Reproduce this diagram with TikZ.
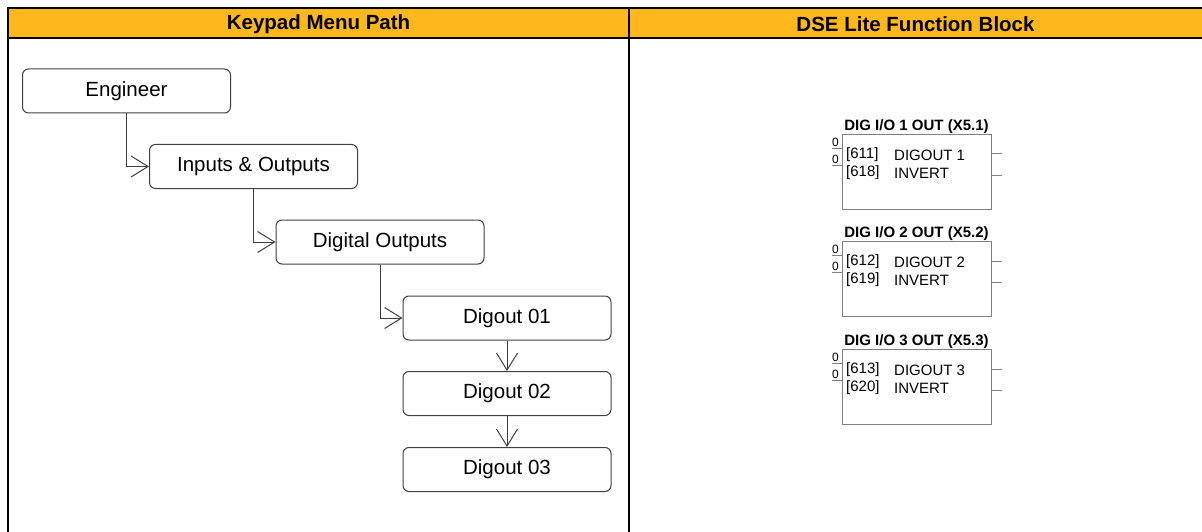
\documentclass[tikz,border=0pt]{standalone}
\usepackage{fontspec}
\setmainfont{Liberation Sans}
\usetikzlibrary{arrows.meta}
\definecolor{hdr}{RGB}{255,184,28}
\definecolor{menuline}{RGB}{64,64,64}
\definecolor{fbgray}{RGB}{128,128,128}
\tikzset{
  menubox/.style={draw=menuline, line width=1pt, rounded corners=6pt, minimum width=208pt, minimum height=44pt, inner sep=0pt, font=\fontsize{20.5}{24}\selectfont},
  arr/.style={draw=menuline, line width=1pt, -{Straight Barb[length=17pt,width=21pt,line width=1pt]}},
  tline/.style={line width=2pt, black},
  hdrtext/.style={font=\fontsize{20.5}{24}\selectfont\bfseries, inner sep=0pt},
  fbbox/.style={draw=fbgray, line width=1pt, minimum width=149pt, minimum height=75pt, inner sep=0pt, anchor=north west},
  fbtitle/.style={font=\fontsize{15}{18}\selectfont\bfseries, inner sep=0pt, anchor=base},
  fbtext/.style={font=\fontsize{15}{18}\selectfont, inner sep=0pt, anchor=west},
  fbzero/.style={font=\fontsize{12}{14}\selectfont, inner sep=0pt, anchor=south},
  fbtick/.style={draw=fbgray, line width=1pt}
}
\begin{document}
\begin{tikzpicture}[x=1pt,y=-1pt]
\useasboundingbox (0,0) rectangle (1202,532);
% table
\fill[hdr] (8,8) rectangle (1202,38.5);
\draw[tline] (7,8) -- (1202,8);
\draw[tline] (8,38.5) -- (1202,38.5);
\draw[tline] (8,7) -- (8,532);
\draw[tline] (629,8) -- (629,532);
\node[hdrtext] (h1) at (318.5,24) {Keypad Menu Path};
\node[hdrtext] (h2) at (915.5,24) {DSE Lite Function Block};
% menu path
\node[menubox] (eng) at (126.5,91) {Engineer};
\node[menubox] (io) at (253.5,166.5) {Inputs \& Outputs};
\node[menubox] (dig) at (380,242) {Digital Outputs};
\node[menubox] (d1) at (507,318) {Digout 01};
\node[menubox] (d2) at (507,393.5) {Digout 02};
\node[menubox] (d3) at (507,469.5) {Digout 03};
\draw[arr] (eng.south) |- (io.west);
\draw[arr] (io.south) |- (dig.west);
\draw[arr] (dig.south) |- (d1.west);
\draw[arr] (d1) -- (d2);
\draw[arr] (d2) -- (d3);
% function blocks
\foreach \i/\t/\pa/\pb/\n in {1/134/611/618/1, 2/241/612/619/2, 3/349/613/620/3}{
  \node[fbtitle] (t\i) at (916.5,\t-3.5) {DIG I/O \n\ OUT (X5.\n)};
  \node[fbbox] (b\i) at (842,\t) {};
  \coordinate (la\i) at (832,\t+14.5);
  \coordinate (lb\i) at (832,\t+31.5);
  \coordinate (ra\i) at (1002,\t+20);
  \coordinate (rb\i) at (1002,\t+41);
  \draw[fbtick] (la\i) -- (la\i -| b\i.west);
  \draw[fbtick] (lb\i) -- (lb\i -| b\i.west);
  \draw[fbtick] (ra\i -| b\i.east) -- (ra\i);
  \draw[fbtick] (rb\i -| b\i.east) -- (rb\i);
  \node[fbzero] (za\i) at (835.5,\t+13) {0};
  \node[fbzero] (zb\i) at (835.5,\t+30) {0};
  \node[fbtext] (pa\i) at (846,\t+21) {[\pa]};
  \node[fbtext] (na\i) at (894,\t+21) {DIGOUT \n};
  \node[fbtext] (pb\i) at (846,\t+39) {[\pb]};
  \node[fbtext] (nb\i) at (894,\t+39) {INVERT};
}
\end{tikzpicture}
\end{document}
